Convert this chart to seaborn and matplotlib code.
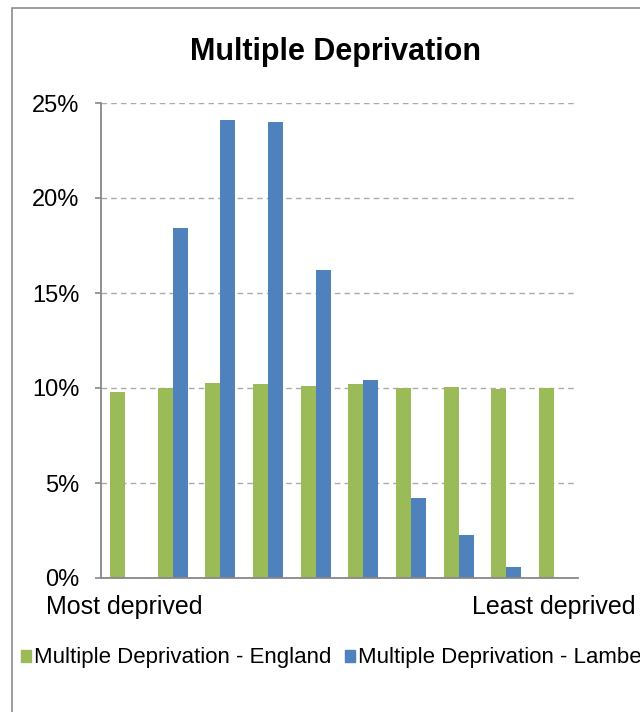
import numpy as np
import pandas as pd
import matplotlib
matplotlib.use("Agg")
import matplotlib.pyplot as plt
import seaborn as sns
from matplotlib.patches import Rectangle

deciles = ["1", "2", "3", "4", "5", "6", "7", "8", "9", "10"]
england = [9.8, 10.0, 10.25, 10.2, 10.1, 10.2, 10.0, 10.05, 9.95, 10.0]
lambeth = [0.0, 18.4, 24.1, 24.0, 16.2, 10.4, 4.2, 2.25, 0.6, 0.0]
series_names = ["Multiple Deprivation - England", "Multiple Deprivation - Lambeth"]
y_ticks = [0, 5, 10, 15, 20, 25]

df = pd.DataFrame({
    "decile": deciles * 2,
    "value": england + lambeth,
    "series": [series_names[0]] * 10 + [series_names[1]] * 10,
})

sns.set_style("white")
plt.rcParams["font.family"] = ["Liberation Sans", "DejaVu Sans"]
plt.rcParams["text.color"] = "black"
plt.rcParams["ytick.labelcolor"] = "black"

fig = plt.figure(figsize=(6.4, 7.12), dpi=100)
ax = fig.add_axes([101 / 640, 1 - 578 / 712, 477 / 640, 475 / 712])

sns.barplot(data=df, x="decile", y="value", hue="series",
            palette=["#9BBB59", "#4F81BD"], width=0.63, gap=0,
            saturation=1, linewidth=0, ax=ax, legend=False)

ax.set_xlim(-0.5, 9.5)
ax.set_ylim(0, 25)
ax.set_yticks(y_ticks)
ax.set_yticklabels([f"{t}%" for t in y_ticks], fontsize=17)
ax.set_xticks([])
ax.set_xticks(np.arange(-0.5, 10, 1), minor=True)
ax.tick_params(axis="x", which="minor", length=6.5, width=1.2, color="#888888", direction="out")
ax.tick_params(axis="y", length=4.5, width=1.2, color="#888888", pad=11, direction="out", left=True)
ax.set_xlabel("")
ax.set_ylabel("")
ax.yaxis.grid(True, linestyle=(0, (4, 3)), color="#aaaaaa", linewidth=1)
ax.set_axisbelow(True)
for side in ["top", "right"]:
    ax.spines[side].set_visible(False)
for side in ["left", "bottom"]:
    ax.spines[side].set_color("#888888")
    ax.spines[side].set_linewidth(1.3)

fig.text(336 / 640, 1 - 52 / 712, "Multiple Deprivation", ha="center", va="center",
         fontsize=22, fontweight="bold")
fig.text(46 / 640, 1 - 607 / 712, "Most deprived", ha="left", va="center", fontsize=18)
fig.text(636 / 640, 1 - 607 / 712, "Least deprived", ha="right", va="center", fontsize=18)

# legend squares + labels, running off the right edge like the reference
handles = [Rectangle((0, 0), 1, 1, color="#9BBB59"), Rectangle((0, 0), 1, 1, color="#4F81BD")]
fig.legend(handles, series_names, loc="center left", bbox_to_anchor=(21 / 640, 1 - 658 / 712),
           ncol=2, frameon=False, fontsize=16, handlelength=0.45, handleheight=0.45,
           handletextpad=0.15, columnspacing=0.6, borderaxespad=0, borderpad=0)

fig.patches.append(Rectangle((12 / 640, -0.1), 2, 1.1 - 8 / 712, transform=fig.transFigure,
                             fill=False, edgecolor="#8c8c8c", linewidth=1.2))

fig.savefig("out.png", dpi=100)
